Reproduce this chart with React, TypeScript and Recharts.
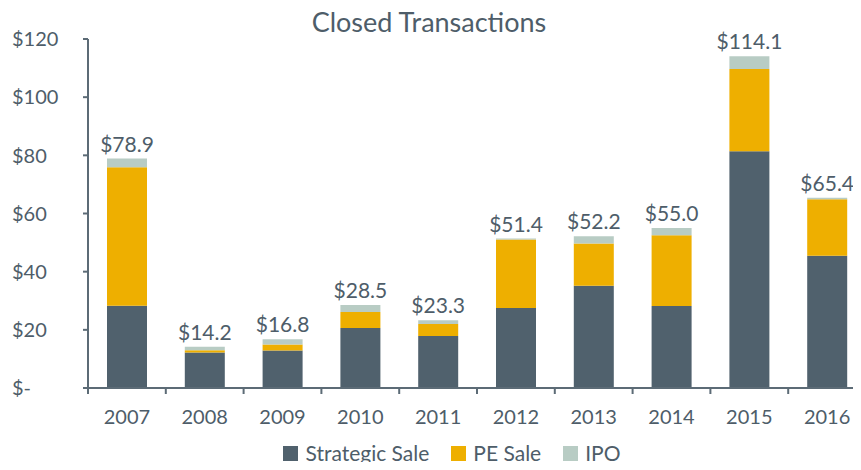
import React from 'react';
import { BarChart, Bar, XAxis, YAxis, Legend, LabelList } from 'recharts';

const years = ['2007', '2008', '2009', '2010', '2011', '2012', '2013', '2014', '2015', '2016'];
const strategicSale = [28.3, 12.2, 12.9, 20.6, 17.9, 27.5, 35.2, 28.2, 81.4, 45.5];
const peSale = [47.6, 0.8, 2.1, 5.5, 4.1, 23.6, 14.5, 24.3, 28.3, 19.4];
const ipo = [3.0, 1.2, 1.8, 2.4, 1.3, 0.3, 2.5, 2.5, 4.4, 0.5];
const totals = [78.9, 14.2, 16.8, 28.5, 23.3, 51.4, 52.2, 55.0, 114.1, 65.4];
const yTicks = [0, 20, 40, 60, 80, 100, 120];
const yTickLabels = ['$-', '$20', '$40', '$60', '$80', '$100', '$120'];

const data = years.map((y, i) => ({
  year: y,
  strategic: strategicSale[i],
  pe: peSale[i],
  ipo: ipo[i],
  total: totals[i],
}));

const TEXT = '#4E5D69';
const AXIS = '#5C6B76';
const C_STRAT = '#50616D';
const C_PE = '#EEAF00';
const C_IPO = '#B8CCC4';
const FONT = 'Lato, "Open Sans", sans-serif';

const YTick = (props: any) => {
  const { y, payload } = props;
  const idx = yTicks.indexOf(payload.value);
  return (
    <text x={12} y={y} dy="0.36em" textAnchor="start" fill={TEXT} fontSize={20} fontFamily={FONT}>
      {idx >= 0 ? yTickLabels[idx] : ''}
    </text>
  );
};

const XTick = (props: any) => {
  const { x, y, payload, index } = props;
  const half = payload && payload.offset ? payload.offset : 38.9;
  return (
    <g>
      <line x1={x - half} x2={x - half} y1={y} y2={y + 6} stroke={AXIS} strokeWidth={2} />
      {index === years.length - 1 ? (
        <line x1={x + half} x2={x + half} y1={y} y2={y + 6} stroke={AXIS} strokeWidth={2} />
      ) : null}
      <text x={x} y={y + 36} textAnchor="middle" fill={TEXT} fontSize={20} fontFamily={FONT}>
        {payload.value}
      </text>
    </g>
  );
};

const TotalLabel = (props: any) => {
  const { x, y, width, index } = props;
  return (
    <text x={x + width / 2} y={y - 7} textAnchor="middle" fill={TEXT} fontSize={21} fontFamily={FONT}>
      {'$' + totals[index].toFixed(1)}
    </text>
  );
};

const legendItems = [
  { name: 'Strategic Sale', color: C_STRAT },
  { name: 'PE Sale', color: C_PE },
  { name: 'IPO', color: C_IPO },
];

const LegendContent = () => (
  <div
    style={{
      display: 'flex',
      justifyContent: 'center',
      alignItems: 'center',
      paddingLeft: 60,
      fontFamily: FONT,
      fontSize: 21,
      color: TEXT,
      height: 26,
      lineHeight: '26px',
    }}
  >
    {legendItems.map((it) => (
      <div key={it.name} style={{ display: 'flex', alignItems: 'center', marginRight: 22 }}>
        <div style={{ width: 15, height: 15, background: it.color, marginRight: 7 }} />
        <span>{it.name}</span>
      </div>
    ))}
  </div>
);

export default function App() {
  return (
    <div
      style={{
        position: 'relative',
        margin: -8,
        width: 861,
        height: 470,
        overflow: 'hidden',
        background: '#fff',
      }}
    >
      <div
        style={{
          position: 'absolute',
          left: 0,
          top: -17,
          fontFamily: FONT,
          fontSize: 20,
          color: TEXT,
          lineHeight: '20px',
          whiteSpace: 'nowrap',
        }}
      >
        ($ in billions)
      </div>
      <div
        style={{
          position: 'absolute',
          left: 0,
          width: 858,
          top: 6,
          textAlign: 'center',
          fontFamily: FONT,
          fontSize: 27,
          color: TEXT,
          lineHeight: '32px',
          zIndex: 2,
        }}
      >
        Closed Transactions
      </div>
      <BarChart
        width={866}
        height={470}
        data={data}
        margin={{ top: 39, right: 0, left: 0, bottom: 0 }}
        barSize={40}
      >
        <YAxis
          type="number"
          domain={[0, 120]}
          ticks={yTicks}
          width={88}
          tick={<YTick />}
          tickSize={5}
          axisLine={{ stroke: AXIS, strokeWidth: 2 }}
          tickLine={{ stroke: AXIS, strokeWidth: 2 }}
          interval={0}
        />
        <XAxis
          dataKey="year"
          height={56}
          tick={<XTick />}
          tickLine={false}
          tickSize={0}
          tickMargin={0}
          axisLine={{ stroke: AXIS, strokeWidth: 2 }}
          interval={0}
        />
        <Legend verticalAlign="bottom" content={<LegendContent />} wrapperStyle={{ bottom: 4 }} />
        <Bar dataKey="strategic" stackId="a" fill={C_STRAT} isAnimationActive={false} />
        <Bar dataKey="pe" stackId="a" fill={C_PE} isAnimationActive={false} />
        <Bar dataKey="ipo" stackId="a" fill={C_IPO} isAnimationActive={false}>
          <LabelList dataKey="total" content={<TotalLabel />} />
        </Bar>
      </BarChart>
    </div>
  );
}
